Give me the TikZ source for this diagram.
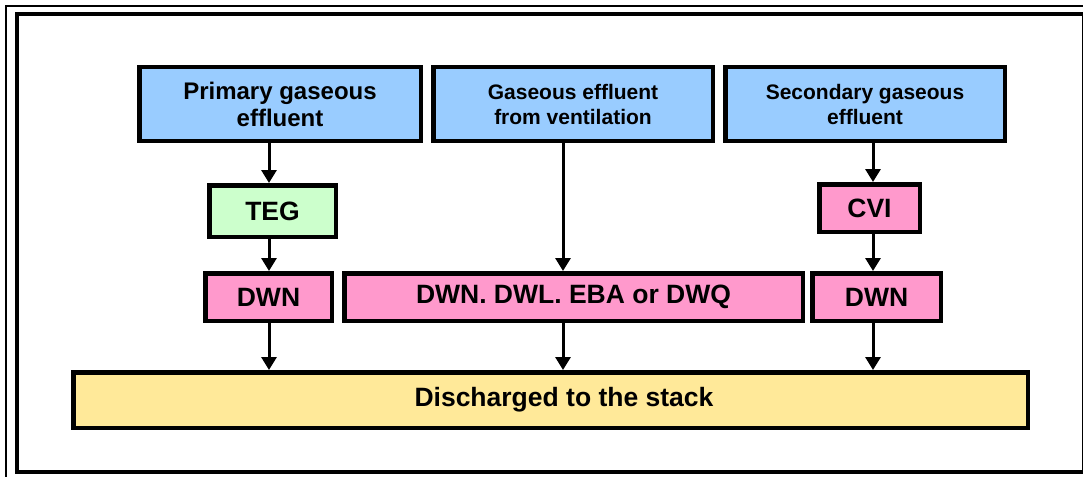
\documentclass[tikz,border=0pt]{standalone}
\usepackage{fontspec}
\setmainfont{Liberation Sans}
\usetikzlibrary{arrows.meta}

\definecolor{srcblue}{HTML}{99CCFF}
\definecolor{tegreen}{HTML}{CCFFCC}
\definecolor{dwpink}{HTML}{FF99CC}
\definecolor{stackyel}{HTML}{FFE999}

\begin{document}
\begin{tikzpicture}[x=1pt,y=-1pt,>={Triangle[length=13pt,width=15pt]},
                    box/.style={draw,rectangle,line width=4.5pt,inner sep=0pt,align=center,
                                font=\bfseries\fontsize{26.5}{30}\selectfont},
                    src node/.style={box,fill=srcblue,minimum width=279.5pt,minimum height=73.5pt,
                                font=\bfseries\fontsize{21}{25}\selectfont},
                    unit node/.style={box,fill=dwpink,minimum height=47.5pt},
                    flow/.style={->,line width=3pt}]

  \useasboundingbox (0,0) rectangle (1083,476);
  \draw[line width=2.5pt] (6,6) rectangle (1100,500);
  \draw[line width=4pt] (17,14) rectangle (1083.5,472);

  \coordinate (colA) at (269,0);
  \coordinate (colB) at (563,0);
  \coordinate (colC) at (873,0);

  \node[src node,minimum width=281.5pt,font=\bfseries\fontsize{24}{27}\selectfont] (prim) at (280,104) {Primary gaseous\\effluent};
  \node[src node] (vent) at (573,104) {Gaseous effluent\\from ventilation};
  \node[src node] (sec) at (865,104) {Secondary gaseous\\effluent};

  \node[box,fill=tegreen,minimum width=126.5pt,minimum height=51.5pt] (teg) at (272.5,211) {TEG};
  \node[unit node,minimum width=100.5pt] (cvi) at (869.5,208) {CVI};

  \node[unit node,minimum width=126.5pt] (dwnA) at (268.5,297) {DWN};
  \node[unit node,minimum width=458.5pt] (dwnB) at (573.5,297) {DWN. DWL. EBA or DWQ};
  \node[unit node,minimum width=128.5pt] (dwnC) at (876.5,297) {DWN};

  \node[box,fill=stackyel,minimum width=954.5pt,minimum height=55.5pt] (stack) at (550.5,400) {\hspace*{27pt}Discharged to the stack};

  \draw[flow] (prim.south -| colA) -- (teg.north -| colA);
  \draw[flow] (teg.south -| colA) -- (dwnA.north -| colA);
  \draw[flow] (dwnA.south -| colA) -- (stack.north -| colA);
  \draw[flow] (vent.south -| colB) -- (dwnB.north -| colB);
  \draw[flow] (dwnB.south -| colB) -- (stack.north -| colB);
  \draw[flow] (sec.south -| colC) -- (cvi.north -| colC);
  \draw[flow] (cvi.south -| colC) -- (dwnC.north -| colC);
  \draw[flow] (dwnC.south -| colC) -- (stack.north -| colC);
\end{tikzpicture}
\end{document}
